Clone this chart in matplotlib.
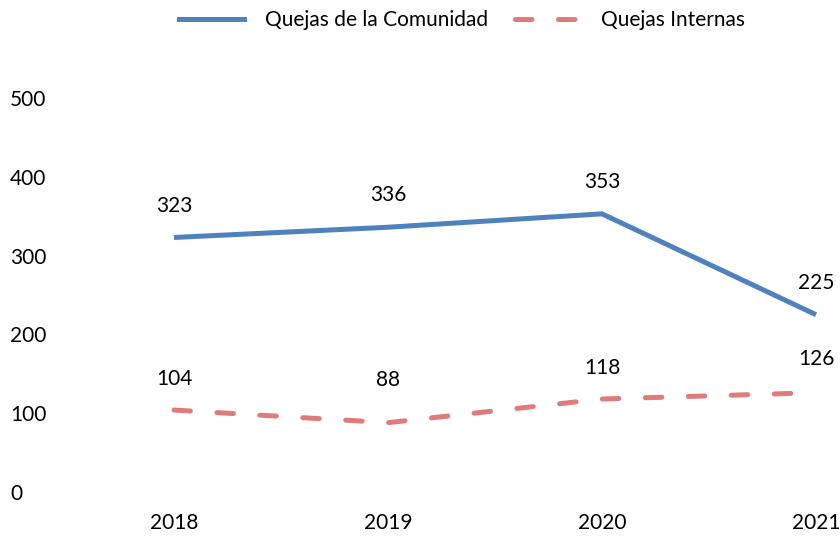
import matplotlib
matplotlib.use("Agg")
import matplotlib.pyplot as plt
from matplotlib.lines import Line2D

years = ["2018", "2019", "2020", "2021"]
comunidad = [323, 336, 353, 225]
internas = [104, 88, 118, 126]
yticks = [0, 100, 200, 300, 400, 500]

BLUE = "#4F81BD"
RED = "#E07B7B"
FS = 15

plt.rcParams["font.family"] = ["Lato", "DejaVu Sans"]

fig = plt.figure(figsize=(8.4, 5.37), dpi=100)
ax = fig.add_axes([174 / 840, 1 - 492 / 537, (816 - 174) / 840, (492 - 98) / 537])

x = list(range(len(years)))
ax.plot(x, comunidad, color=BLUE, linewidth=3.6, solid_capstyle="butt", clip_on=False)
red_line, = ax.plot(x, internas, color=RED, linewidth=3.6, dash_capstyle="round", clip_on=False)
red_line.set_dashes((3.3, 5.3))

for xi, v in zip(x, comunidad):
    ax.annotate(str(v), (xi, v), xytext=(0, 23), textcoords="offset points",
                ha="center", va="center", fontsize=FS)
offs = [22, 31, 22, 24]
for xi, v, o in zip(x, internas, offs):
    ax.annotate(str(v), (xi, v), xytext=(0, o), textcoords="offset points",
                ha="center", va="center", fontsize=FS)

ax.set_xlim(0, 3)
ax.set_ylim(0, 500)
ax.set_xticks(x)
ax.set_xticklabels(years, fontsize=FS)
ax.set_yticks(yticks)
ax.set_yticklabels([str(t) for t in yticks], fontsize=FS, ha="left")
ax.tick_params(axis="y", length=0, pad=118)
ax.tick_params(axis="x", length=0, pad=15)
for s in ax.spines.values():
    s.set_visible(False)
for lab in ax.get_xticklabels():
    lab.set_clip_on(False)

handles = [
    Line2D([], [], color=BLUE, linewidth=3.6),
    Line2D([], [], color=RED, linewidth=3.6, dash_capstyle="round", dashes=(3.3, 5.3)),
]
fig.legend(handles, ["Quejas de la Comunidad", "Quejas Internas"],
           loc="center", bbox_to_anchor=(462 / 840, 1 - 20 / 537), ncol=2,
           frameon=False, fontsize=FS, handlelength=3.1, columnspacing=1.3,
           handletextpad=1.0)

fig.savefig("out.png", dpi=100)
